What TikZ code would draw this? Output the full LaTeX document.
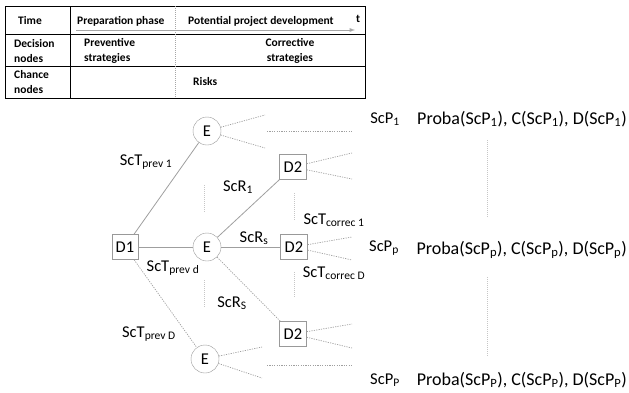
\documentclass[tikz,border=0pt]{standalone}
\usepackage{fontspec}
\setmainfont{Carlito}
\usetikzlibrary{arrows,positioning}
\tikzset{
  basic/.style    = {font=\fontsize{16.5}{19}\selectfont, inner sep=1pt},
  decision/.style = {basic, draw=gray!80, rectangle, minimum width=26pt,
                     minimum height=25pt},
  chance/.style   = {basic, draw=gray!80, circle, minimum size=28pt,
                     inner sep=0pt},
  branchtxt/.style = {basic, inner sep=0pt},
  valuetxt/.style = {branchtxt, font=\fontsize{18}{20}\selectfont, anchor=east},
  cell/.style     = {font=\fontsize{11.5}{15}\selectfont\bfseries,
                     align=left, anchor=west, inner sep=0pt},
  link/.style     = {draw=gray!75, line width=0.8pt},
  dlink/.style    = {draw=gray!75, line width=0.7pt, dash pattern=on 1.2pt off 1.2pt},
  vdots/.style    = {draw=gray!45, line width=0.7pt, dash pattern=on 1pt off 1pt}
}

\begin{document}
\begin{tikzpicture}[x=1pt, y=-1pt, >=latex]
\useasboundingbox (0,0) rectangle (629,392);

% the time table
\draw[line width=0.9pt] (5,6) rectangle (365,98);
\draw[line width=0.7pt] (5,34) -- (365,34);
\draw[line width=0.7pt] (5,66) -- (365,66);
\draw[line width=0.8pt] (70,6) -- (70,98);
\draw[vdots, draw=gray!70] (175,6) -- (175,98);
\draw[->, draw=gray!70, line width=0.9pt] (76,30) -- (355,30);

\node[cell] (time)  at (18,21) {Time};
\node[cell] (prep)  at (77,21) {Preparation phase};
\node[cell] (dev)   at (188,21) {Potential project development};
\node[cell, anchor=center] (tt) at (358,19) {t};
\node[cell] (dnode) at (14,51) {Decision\\nodes};
\node[cell] (prev)  at (84,51) {Preventive\\strategies};
\node[cell, align=center, anchor=center] (corr) at (290,51) {Corrective\\strategies};
\node[cell] (cnode) at (14,82) {Chance\\nodes};
\node[cell] (risk)  at (193,82) {Risks};

% decision and chance nodes of the tree
\node[decision] (d1)  at (125,247) {D1};
\node[chance]   (e1)  at (207,131) {E};
\node[chance]   (e2)  at (207,247) {E};
\node[chance]   (e3)  at (205,359) {E};
\node[decision, minimum width=27pt] (d2a) at (293,167) {D2};
\node[decision, minimum width=27pt] (d2b) at (294,247) {D2};
\node[decision, minimum width=27pt] (d2c) at (293,334) {D2};

% edges between the nodes
\draw[link]  (d1) -- (e1);
\draw[link]  (d1) -- (e2);
\draw[dlink] (d1) -- (e3);
\draw[link]  (e2) -- (d2a);
\draw[link]  (e2) -- (d2b);
\draw[dlink] (e2) -- (d2c);

% open branches on the right of each node
\foreach \n/\xe/\ya/\yb in {e1/265/115/148, d2a/352/153/179, d2b/352/237/260,
                            d2c/352/324/348, e3/262/347/378}{
  \coordinate (\n-up) at (\xe,\ya);
  \coordinate (\n-dn) at (\xe,\yb);
  \draw[dlink] (\n) -- (\n-up);
  \draw[dlink] (\n) -- (\n-dn);
}
\foreach \y in {131,365}
  \draw[dlink] (267,\y) -- (352,\y);

% dotted gaps between the branches
\foreach \x/\ya/\yb in {204/185/212, 204/280/307, 294/193/220, 294/272/298,
                        487/140/218, 487/277/357}
  \draw[vdots] (\x,\ya) -- (\x,\yb);

% branch labels
\node[branchtxt] (tp1) at (146,162) {ScT\textsubscript{prev 1}};
\node[branchtxt] (tpd) at (173,268) {ScT\textsubscript{prev d}};
\node[branchtxt] (tpD) at (149,334) {ScT\textsubscript{prev D}};
\node[branchtxt] (r1)  at (238,187) {ScR\textsubscript{1}};
\node[branchtxt] (rs)  at (254,238) {ScR\textsubscript{s}};
\node[branchtxt] (rS)  at (232,303) {ScR\textsubscript{S}};
\node[branchtxt] (tc1) at (334,220) {ScT\textsubscript{correc 1}};
\node[branchtxt] (tcD) at (334,273) {ScT\textsubscript{correc D}};

% scenarios and their values
\node[branchtxt] (p1)  at (385,119) {ScP\textsubscript{1}};
\node[branchtxt] (pp)  at (384,248) {ScP\textsubscript{p}};
\node[branchtxt] (pP)  at (385,380) {ScP\textsubscript{P}};
\node[valuetxt] (v1) at (627,119)
  {Proba(ScP\textsubscript{1}), C(ScP\textsubscript{1}), D(ScP\textsubscript{1})};
\node[valuetxt] (vp) at (627,250)
  {Proba(ScP\textsubscript{p}), C(ScP\textsubscript{p}), D(ScP\textsubscript{p})};
\node[valuetxt] (vP) at (627,380)
  {Proba(ScP\textsubscript{P}), C(ScP\textsubscript{P}), D(ScP\textsubscript{P})};

\end{tikzpicture}
\end{document}
